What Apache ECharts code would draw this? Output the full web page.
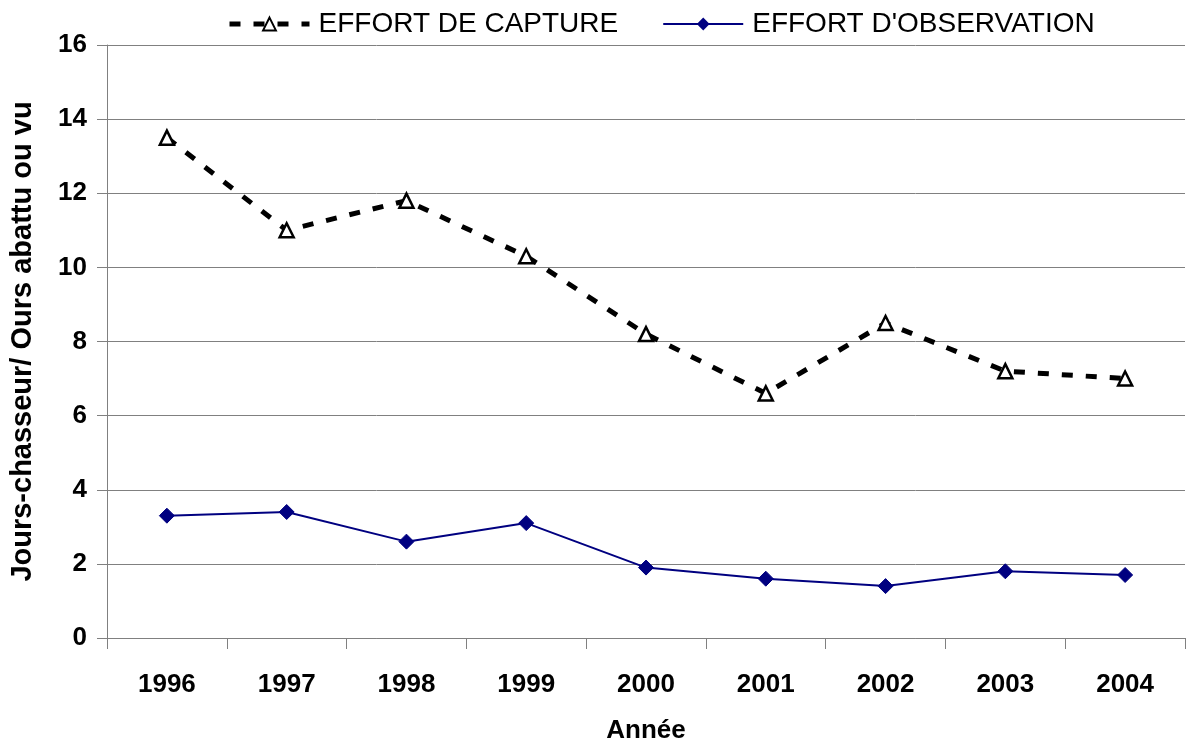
<!DOCTYPE html>
<html>
<head>
<meta charset="utf-8">
<script src="https://cdn.jsdelivr.net/npm/echarts@6/dist/echarts.min.js"></script>
<style>
  html, body { margin: 0; padding: 0; background: #fff; }
  #chart { width: 1199px; height: 748px; }
</style>
</head>
<body>
<div id="chart"></div>
<script>
// data
var years = ['1996', '1997', '1998', '1999', '2000', '2001', '2002', '2003', '2004'];
var effortCapture = [13.5, 11.0, 11.8, 10.3, 8.2, 6.6, 8.5, 7.2, 7.0];
var effortObservation = [3.3, 3.4, 2.6, 3.1, 1.9, 1.6, 1.4, 1.8, 1.7];

var myChart = echarts.init(document.getElementById('chart'));
var font = 'Liberation Sans, Arial, sans-serif';
var option = {
    backgroundColor: '#fff',
    animation: false,
    textStyle: { fontFamily: font },
    legend: {
        top: 5,
        left: 222,
        itemWidth: 80,
        itemHeight: 16,
        itemGap: 44,
        textStyle: { fontSize: 28, color: '#000', fontFamily: font, padding: [0, 0, 0, 4] },
        data: [
            { name: 'EFFORT DE CAPTURE', lineStyle: { width: 5 } },
            { name: "EFFORT D'OBSERVATION" }
        ]
    },
    grid: {
        left: 107,
        right: 14,
        top: 45,
        bottom: 110,
        outerBoundsMode: 'none'
    },
    xAxis: {
        type: 'category',
        data: years,
        boundaryGap: true,
        name: 'Année',
        nameLocation: 'middle',
        nameGap: 80,
        nameTextStyle: { fontSize: 26, fontWeight: 'bold', color: '#000' },
        axisLine: { lineStyle: { color: '#808080', width: 1 } },
        axisTick: { show: true, length: 11, lineStyle: { color: '#808080' } },
        axisLabel: { fontSize: 26, fontWeight: 'bold', color: '#000', margin: 34 }
    },
    yAxis: {
        type: 'value',
        min: 0,
        max: 16,
        interval: 2,
        name: 'Jours-chasseur/ Ours abattu ou vu',
        nameLocation: 'middle',
        nameGap: 70,
        nameTextStyle: { fontSize: 29, fontWeight: 'bold', color: '#000' },
        axisLine: { show: true, lineStyle: { color: '#808080', width: 1 } },
        axisTick: { show: true, length: 10, lineStyle: { color: '#808080' } },
        axisLabel: { fontSize: 26, fontWeight: 'bold', color: '#000', margin: 20 },
        splitLine: { lineStyle: { color: '#808080', width: 1 } }
    },
    series: [{
        name: 'EFFORT DE CAPTURE',
        type: 'line',
        data: effortCapture,
        symbol: 'triangle',
        symbolSize: 14,
        lineStyle: { color: '#000', width: 5, type: [11, 13] },
        itemStyle: { color: '#fff', borderColor: '#000', borderWidth: 2.5 },
        z: 3
    },
    {
        name: "EFFORT D'OBSERVATION",
        type: 'line',
        data: effortObservation,
        symbol: 'diamond',
        symbolSize: 15,
        lineStyle: { color: '#000080', width: 2 },
        itemStyle: { color: '#000080', borderColor: '#000080' },
        z: 2
    }]
};
if (option && typeof option === "object") {
    myChart.setOption(option, true);
}
</script>
</body>
</html>
